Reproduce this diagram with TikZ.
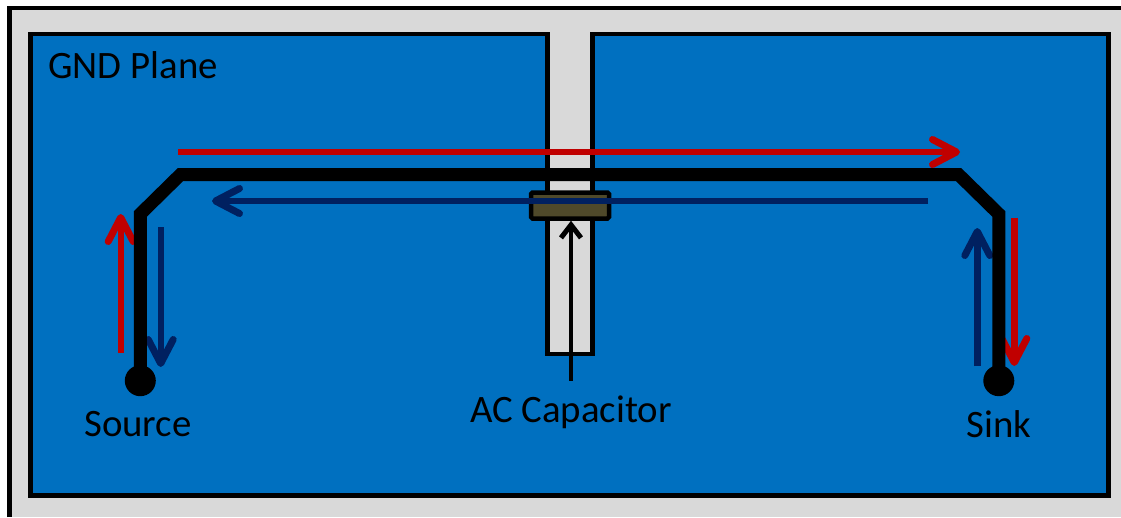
\documentclass[tikz,border=0pt]{standalone}
\usepackage{fontspec}
\setmainfont{Carlito}
\usetikzlibrary{arrows.meta}
\newlength{\du}
\setlength{\du}{1pt}
\definecolor{planeblue}{rgb}{0.000000, 0.439000, 0.753000}
\definecolor{boardgray}{rgb}{0.851000, 0.851000, 0.851000}
\definecolor{forwardred}{rgb}{0.753000, 0.000000, 0.000000}
\definecolor{returnblue}{rgb}{0.000000, 0.125000, 0.376000}
\definecolor{capbrown}{rgb}{0.310000, 0.286000, 0.165000}
\tikzset{
  textlabel/.style={inner sep=0pt,font=\fontsize{38.8}{38.8}\selectfont},
  pad/.style={circle,fill=black,inner sep=0pt,minimum size=31\du},
  currentpath/.style={line width=6.4\du,-{Straight Barb[length=24pt,width=25pt,line width=7pt,line cap=round,line join=round]}},
  pointer/.style={line width=4.4\du,-{Straight Barb[length=13pt,width=20pt,line width=5pt]}}
}

\begin{document}
\begin{tikzpicture}
\pgftransformxscale{1.000000}
\pgftransformyscale{-1.000000}
\useasboundingbox (0\du,0\du) rectangle (1121\du,517\du);
% board
\fill[boardgray] (9\du,8\du) rectangle (1121\du,517\du);
\draw[line width=4.5\du] (9.3\du,517\du)--(9.3\du,8\du)--(1121\du,8\du);
% plane with slot
\draw[line width=4.5\du,fill=planeblue] (30.5\du,34\du)--(547.5\du,34\du)--(547.5\du,354\du)--(592.5\du,354\du)--(592.5\du,34\du)--(1108.5\du,34\du)--(1108.5\du,495.5\du)--(30.5\du,495.5\du)--cycle;
\fill[boardgray] (549.75\du,36\du) rectangle (590.25\du,351.75\du);
\node[textlabel] (gnd) at (133\du,65\du){GND Plane};
% capacitor
\node[draw,line width=4.5\du,fill=capbrown,rounded corners=1.5\du,inner sep=0pt,minimum width=78\du,minimum height=26\du] (cap) at (570\du,205.5\du){};
% trace
\node[pad] (source) at (140.3\du,380.7\du){};
\node[pad] (sink) at (998.8\du,380.7\du){};
\coordinate (bendA) at (140.3\du,214\du);
\coordinate (bendB) at (180.5\du,174.5\du);
\coordinate (bendC) at (958.5\du,174.5\du);
\coordinate (bendD) at (998.8\du,214\du);
% current paths
\coordinate (redA) at (178\du,152\du);
\coordinate (redB) at (960\du,152\du);
\coordinate (blueA) at (928\du,201\du);
\coordinate (blueB) at (212\du,201\du);
\coordinate (redC) at (120.7\du,353\du);
\coordinate (redD) at (120.7\du,214\du);
\coordinate (blueC) at (160.7\du,227\du);
\coordinate (blueD) at (160.7\du,367\du);
\coordinate (blueE) at (977.3\du,366\du);
\coordinate (blueF) at (977.3\du,228\du);
\coordinate (redE) at (1014.3\du,217.7\du);
\coordinate (redF) at (1014.3\du,366\du);
\draw[currentpath,forwardred] (redC)--(redD);
\draw[currentpath,returnblue] (blueE)--(blueF);
\draw[currentpath,returnblue] (blueC)--(blueD);
\draw[currentpath,forwardred] (redE)--(redF);
\draw[line width=13\du,miter limit=10] (source.center)--(bendA)--(bendB)--(bendC)--(bendD)--(sink.center);
\draw[currentpath,forwardred] (redA)--(redB);
\draw[currentpath,returnblue] (blueA)--(blueB);
% labels
\node[textlabel] (sourcelabel) at (138\du,424\du){Source};
\node[textlabel] (sinklabel) at (999\du,424\du){Sink};
\node[textlabel] (caplabel) at (571\du,412\du){AC Capacitor};
\coordinate (capfoot) at (571\du,380.7\du);
\draw[pointer] (capfoot)--(cap.south -| capfoot);
\end{tikzpicture}
\end{document}
